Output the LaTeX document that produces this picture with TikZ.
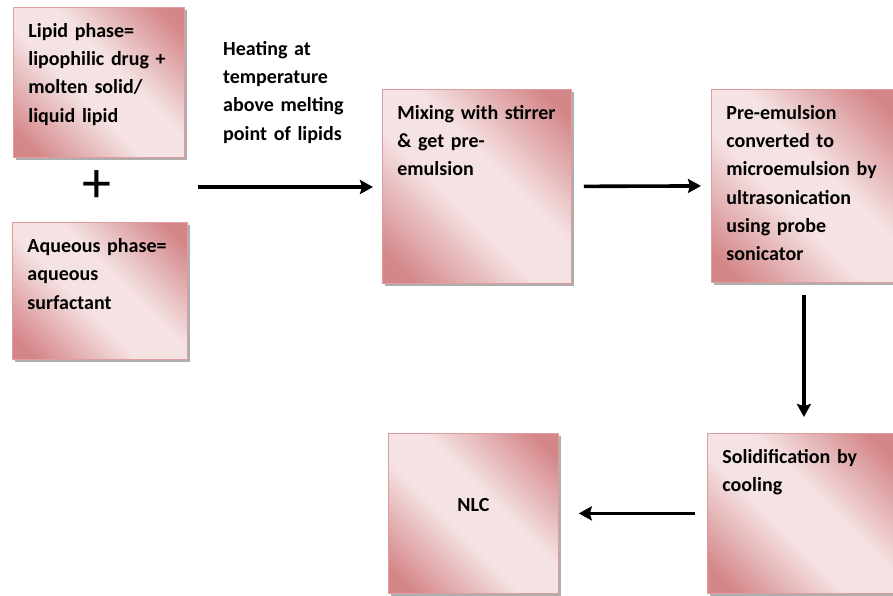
\documentclass[tikz,border=0pt]{standalone}
\usepackage{fontspec}
\setmainfont[WordSpace=0.85]{Carlito}
\usetikzlibrary{arrows.meta,shadows}

\definecolor{rosedark}{RGB}{212,134,136}
\definecolor{roselight}{RGB}{245,226,227}
\definecolor{roseline}{RGB}{222,158,160}
\pgfdeclareverticalshading{rosediag}{100bp}{color(0bp)=(rosedark); color(20bp)=(rosedark);
 color(43bp)=(roselight); color(57bp)=(roselight); color(80bp)=(rosedark); color(100bp)=(rosedark)}

\begin{document}
\begin{tikzpicture}[x=1pt,y=-1pt,
 font=\fontsize{20}{28.3}\selectfont\bfseries,
 stepbox/.style={draw=roseline,line width=0.8pt,shading=rosediag,shading angle=-45,
  drop shadow={shadow xshift=3pt,shadow yshift=-3pt,fill=black!45,opacity=0.7},
  anchor=north west,inner xsep=15pt,inner ysep=0pt,align=left,text height=30pt},
 flow/.style={line width=3.6pt,-{Stealth[length=13pt,width=14pt,inset=2pt]}}]
\useasboundingbox (0,0) rectangle (893,596);

% input phases
\node[stepbox,text width=141pt,text depth=120pt] (lipid) at (13,7)
 {Lipid phase=\\lipophilic drug +\\molten solid/\\liquid lipid};
\node[font=\fontsize{58}{58}\selectfont\mdseries,inner sep=0pt] (plus) at (97,187) {+};
\node[stepbox,text width=145pt,text depth=107pt] (aqueous) at (12,222)
 {Aqueous phase=\\aqueous\\surfactant};

\node[anchor=north west,inner sep=0pt,text width=150pt,text height=30pt,align=left] (heat) at (223,25)
 {Heating at\\temperature\\above melting\\point of lipids};

% process steps
\node[stepbox,text width=159pt,text depth=164pt] (mixing) at (382,89)
 {Mixing with stirrer\\\& get pre-\\emulsion};
\node[stepbox,text width=155pt,text depth=163pt] (pre) at (711,89)
 {Pre-emulsion\\converted to\\microemulsion by\\ultrasonication\\using probe\\sonicator};
\node[stepbox,text width=156pt,text depth=130pt] (solid) at (707,433)
 {Solidification by\\cooling};
\node[stepbox,align=center,text width=140pt,text height=78pt,text depth=82pt] (nlc) at (388,433) {NLC};

% arrows
\coordinate (heatfrom) at (198,187);
\draw[flow,shorten >=9pt] (heatfrom) -- (heatfrom -| mixing.west);
\draw[flow,shorten <=12pt,shorten >=10pt] (mixing.east) -- (pre.west);
\draw[flow,shorten <=12pt,shorten >=16pt] (pre.south) -- (pre.south |- solid.north);
\draw[flow,shorten <=12pt,shorten >=20pt] (solid.west) -- (nlc.east);
\end{tikzpicture}
\end{document}
